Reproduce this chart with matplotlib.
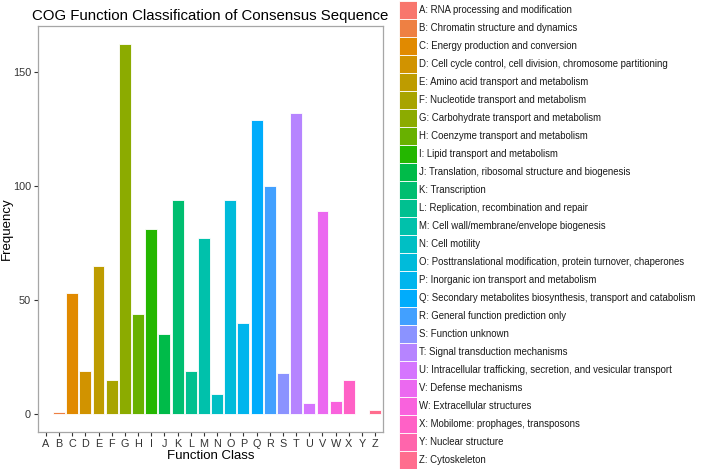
import numpy as np
import matplotlib
matplotlib.use("Agg")
import matplotlib.pyplot as plt

plt.rcParams['font.family'] = ['Liberation Sans', 'DejaVu Sans']

classes = list("ABCDEFGHIJKLMNOPQRSTUVWXYZ")
counts = [0, 1, 53, 19, 65, 15, 162, 44, 81, 35, 94, 19, 77, 9, 94, 40,
          129, 100, 18, 132, 5, 89, 6, 15, 0, 2]
descriptions = [
    "RNA processing and modification",
    "Chromatin structure and dynamics",
    "Energy production and conversion",
    "Cell cycle control, cell division, chromosome partitioning",
    "Amino acid transport and metabolism",
    "Nucleotide transport and metabolism",
    "Carbohydrate transport and metabolism",
    "Coenzyme transport and metabolism",
    "Lipid transport and metabolism",
    "Translation, ribosomal structure and biogenesis",
    "Transcription",
    "Replication, recombination and repair",
    "Cell wall/membrane/envelope biogenesis",
    "Cell motility",
    "Posttranslational modification, protein turnover, chaperones",
    "Inorganic ion transport and metabolism",
    "Secondary metabolites biosynthesis, transport and catabolism",
    "General function prediction only",
    "Function unknown",
    "Signal transduction mechanisms",
    "Intracellular trafficking, secretion, and vesicular transport",
    "Defense mechanisms",
    "Extracellular structures",
    "Mobilome: prophages, transposons",
    "Nuclear structure",
    "Cytoskeleton",
]


def hcl_hex(h, c=100.0, l=65.0):
    # polar LUV -> sRGB, like R's hcl()
    xn, yn, zn = 95.047, 100.0, 108.883
    hr = np.deg2rad(h)
    U, V = c * np.cos(hr), c * np.sin(hr)
    Y = yn * ((l + 16) / 116) ** 3 if l > 8 else yn * l / 903.3
    den = xn + 15 * yn + 3 * zn
    un, vn = 4 * xn / den, 9 * yn / den
    u = U / (13 * l) + un
    v = V / (13 * l) + vn
    X = 9.0 * Y * u / (4 * v)
    Z = -X / 3 - 5 * Y + 3 * Y / v
    M = np.array([[3.240479, -1.537150, -0.498535],
                  [-0.969256, 1.875992, 0.041556],
                  [0.055648, -0.204043, 1.057311]])
    rgb = M @ (np.array([X, Y, Z]) / 100.0)
    rgb = np.where(rgb > 0.0031308, 1.055 * np.power(np.clip(rgb, 0, None), 1 / 2.4) - 0.055, 12.92 * rgb)
    rgb = np.clip(rgb, 0, 1)
    return matplotlib.colors.to_hex(rgb)


n = len(classes)
hues = np.linspace(15, 375, n + 1)[:n]
colors = [hcl_hex(h) for h in hues]

W, H = 708, 471
fig = plt.figure(figsize=(W / 100, H / 100), dpi=100)

# main panel
ax = fig.add_axes([38 / W, 1 - 432 / H, (383 - 38) / W, (432 - 26) / H])
x = np.arange(1, n + 1)
ax.bar(x, counts, width=0.9, color=colors, edgecolor='white', linewidth=0.6)
ax.set_xlim(0.4, n + 0.6)
ax.set_ylim(-7.7, 170)
ax.set_xticks(x)
ax.set_xticklabels(classes)
ax.set_yticks([0, 50, 100, 150])
for s in ax.spines.values():
    s.set_color('#a6a6a6')
    s.set_linewidth(0.9)
ax.tick_params(colors='#333333', labelsize=7.8, length=3, width=0.8, pad=2)
ax.set_xlabel("Function Class", fontsize=9.5, labelpad=1)
ax.set_ylabel("Frequency", fontsize=9.5)
ax.yaxis.set_label_coords((13 - 38) / 345, 0.5)
ax.set_title("COG Function Classification of Consensus Sequence", fontsize=10.8, pad=4)

# legend as its own axes
lax = fig.add_axes([398.5 / W, 1 - 469 / H, (417 - 398.5) / W, 468 / H])
pos = np.arange(n)
lax.barh(pos, [1] * n, height=1.0, color=colors, edgecolor='white', linewidth=0.6)
lax.set_ylim(n - 0.5, -0.5)
lax.set_xlim(0, 1)
lax.axis('off')
for i, (c, d) in enumerate(zip(classes, descriptions)):
    lax.text(1.1, i, f"{c}: {d}", va='center', ha='left', fontsize=6.95,
             color='#1a1a1a', clip_on=False)

fig.savefig("out.png", dpi=100)
